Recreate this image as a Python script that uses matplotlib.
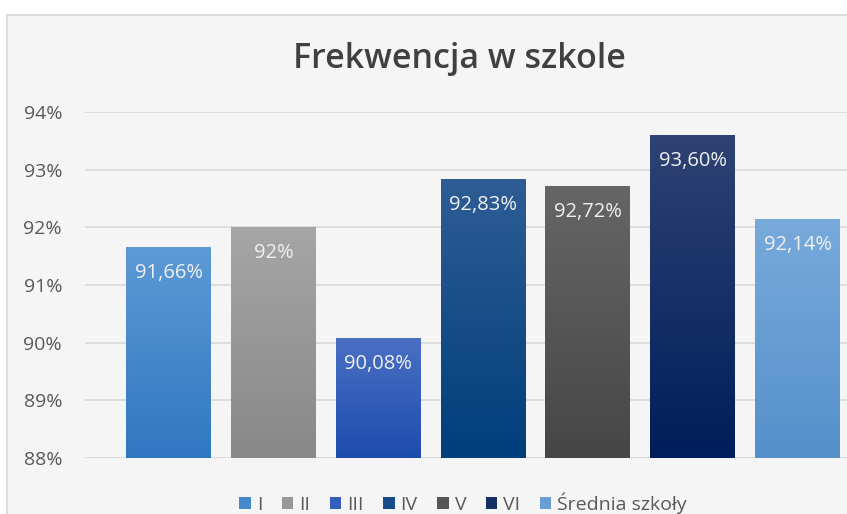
import numpy as np
import matplotlib
matplotlib.use("Agg")
import matplotlib.pyplot as plt
from matplotlib.patches import Rectangle
from matplotlib.colors import LinearSegmentedColormap

plt.rcParams['font.family'] = ['Open Sans', 'DejaVu Sans']

# data
series = ['I', 'II', 'III', 'IV', 'V', 'VI', 'Średnia szkoły']
values = [91.66, 92.00, 90.08, 92.83, 92.72, 93.60, 92.14]
yticks = [88, 89, 90, 91, 92, 93, 94]

# gradient colours (top, bottom) for each bar
top_colors = ['#5d9ad6', '#a6a6a6', '#4a70c4', '#2f5d95', '#666666', '#2f4274', '#78aadb']
bottom_colors = ['#2f78c0', '#888888', '#1d4cae', '#003e7c', '#464646', '#001e5a', '#5590cb']
mid_colors = ['#4589cc', '#979797', '#335ebb', '#174c89', '#565656', '#163066', '#679ed3']

W, H = 847, 514
fig = plt.figure(figsize=(W / 100, H / 100), dpi=100)
fig.patch.set_facecolor('white')

# chart area background with border
fig.patches.append(Rectangle((7 / W, -0.01), 1.0, 1 - 15 / H + 0.01, transform=fig.transFigure,
                             facecolor='#f5f5f5', edgecolor='#d6d6d6', lw=1.2, zorder=-5))

ax = fig.add_axes([85 / W, 56 / H, 1 - 85 / W, (458 - 112) / H])
ax.set_facecolor('none')
ax.set_zorder(2)

x = np.arange(len(series))
bars = ax.bar(x, values, width=0.81, bottom=0, color=mid_colors, zorder=3)

# gradient fill for each bar
for i, b in enumerate(bars):
    cmap = LinearSegmentedColormap.from_list('g%d' % i, [bottom_colors[i], top_colors[i]])
    grad = np.linspace(0, 1, 256).reshape(-1, 1)
    bx, bw = b.get_x(), b.get_width()
    im = ax.imshow(grad, cmap=cmap, origin='lower', aspect='auto',
                   extent=[bx, bx + bw, 88, values[i]], zorder=4)
    im.set_clip_path(b)

ax.set_xlim(-0.797, 6.472)
ax.set_ylim(88, 94)

for i, v in enumerate(values):
    if abs(v - round(v)) < 1e-9:
        txt = '%d%%' % round(v)
    else:
        txt = ('%.2f%%' % v).replace('.', ',')
    ax.annotate(txt, (x[i], v), xytext=(0, -26), textcoords='offset pixels',
                ha='center', va='center', fontsize=14.5, color='#f0f0f0', zorder=5)

ax.set_yticks(yticks)
ax.set_yticklabels(['%d%%' % t for t in yticks])
ax.tick_params(axis='y', length=0, pad=16.5, labelsize=14, labelcolor='#595959')
ax.set_xticks([])
ax.grid(axis='y', color='#d9d9d9', lw=1.2, zorder=1)
for s in ax.spines.values():
    s.set_visible(False)

fig.text(459 / W, 1 - 59 / H, 'Frekwencja w szkole', ha='center', va='center',
         fontsize=24.5, fontweight='semibold', color='#404040')

handles = [Rectangle((0, 0), 1, 1, facecolor=c) for c in mid_colors]
fig.legend(handles, series, loc='center', bbox_to_anchor=(463 / W, 1 - 503 / H),
           ncol=len(series), frameon=False, fontsize=14, labelcolor='#595959',
           handlelength=0.6, handleheight=0.6, handletextpad=0.3, columnspacing=1.0)

fig.savefig('out.png', dpi=100, facecolor=fig.get_facecolor())
